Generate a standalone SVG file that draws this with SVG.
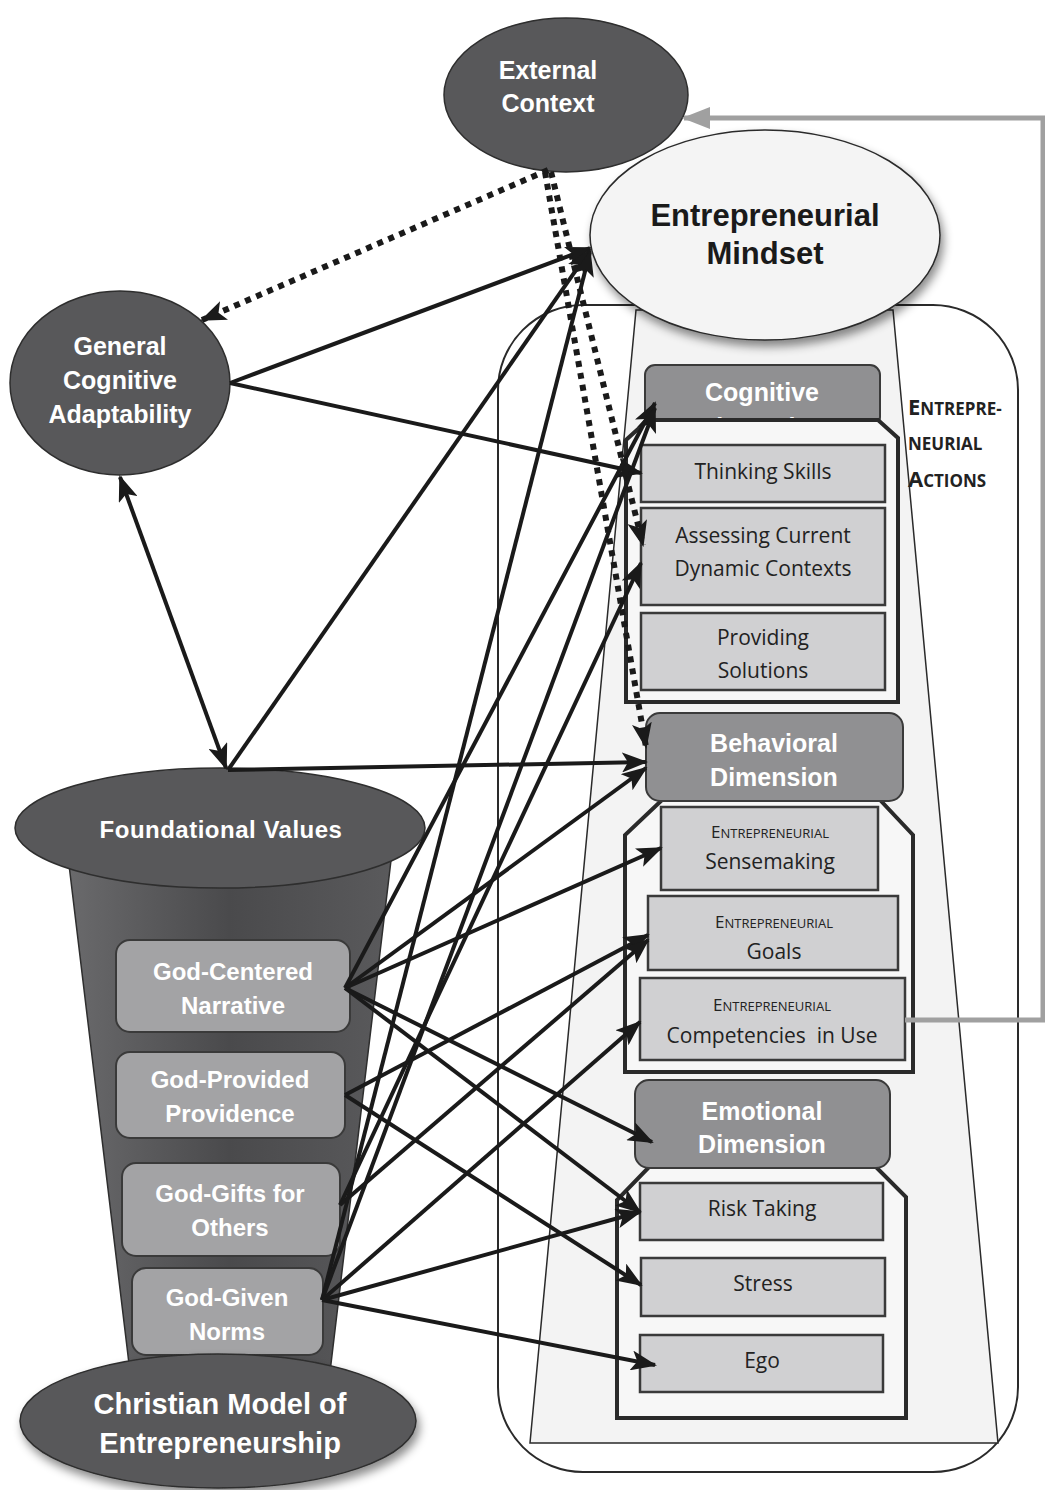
<svg xmlns="http://www.w3.org/2000/svg" width="1045" height="1490" viewBox="0 0 1045 1490">
<defs>
<style>
.dark{fill:#58585a;stroke:#2e2e2e;stroke-width:1.5}
.wb{font-family:"Liberation Sans",Arial,sans-serif;font-weight:bold;fill:#ffffff;text-anchor:middle}
.nb{font-family:"Liberation Sans Narrow","Liberation Sans",Arial,sans-serif;font-weight:bold;text-anchor:middle}
.dim{fill:#909092;stroke:#3a3a3a;stroke-width:2}
.item{fill:#d0d0d2;stroke:#3a3a3a;stroke-width:2.5}
.grp{fill:#f7f7f7;stroke:#2a2a2a;stroke-width:4}
.fv{fill:#a3a3a5;stroke:#3a3a3a;stroke-width:2}
.it{font-family:"Open Sans","Noto Sans",sans-serif;font-size:21px;fill:#222;text-anchor:middle;white-space:pre}
.sc{font-family:"Open Sans","Noto Sans",sans-serif;fill:#222;text-anchor:middle}
.arr{stroke:#1a1a1a;stroke-width:4;fill:none;marker-end:url(#ah)}
.dot{stroke:#1a1a1a;stroke-width:6;fill:none;stroke-dasharray:6 6;marker-end:url(#ah)}
</style>
<marker id="ah" markerUnits="userSpaceOnUse" markerWidth="26" markerHeight="20" refX="24" refY="10" orient="auto-start-reverse">
<path d="M0,0 L26,10 L0,20 L6,10 z" fill="#1a1a1a"/>
</marker>
<marker id="ahg" markerUnits="userSpaceOnUse" markerWidth="28" markerHeight="22" refX="26" refY="11" orient="auto">
<path d="M0,0 L28,11 L0,22 z" fill="#a0a0a0"/>
</marker>
<filter id="sh" x="-20%" y="-20%" width="140%" height="150%">
<feDropShadow dx="3" dy="6" stdDeviation="5" flood-color="#000" flood-opacity="0.45"/>
</filter>
<linearGradient id="fun" x1="0" y1="0" x2="1" y2="0">
<stop offset="0" stop-color="#6a6a6c"/>
<stop offset="0.5" stop-color="#4a4a4c"/>
<stop offset="1" stop-color="#5a5a5c"/>
</linearGradient>
</defs>
<rect width="1045" height="1490" fill="#ffffff"/>

<g id="actions-panel">
<rect x="498" y="305" width="520" height="1167" rx="85" ry="85" fill="#ffffff" stroke="#2a2a2a" stroke-width="2"/>
<polygon points="636,310 893,310 998,1443 530,1443" fill="#f3f3f3" stroke="#2a2a2a" stroke-width="1.5"/>
<text x="908" y="415" font-family="Open Sans,Noto Sans,sans-serif" font-weight="bold" fill="#222"><tspan font-size="22">E</tspan><tspan font-size="17">NTREPRE-</tspan></text>
<text x="908" y="450" font-family="Open Sans,Noto Sans,sans-serif" font-weight="bold" fill="#222" font-size="17">NEURIAL</text>
<text x="908" y="487" font-family="Open Sans,Noto Sans,sans-serif" font-weight="bold" fill="#222"><tspan font-size="22">A</tspan><tspan font-size="17">CTIONS</tspan></text>
</g>

<g id="entrepreneurial-mindset">
<ellipse cx="765" cy="235" rx="175" ry="105" fill="#f4f4f4" stroke="#2a2a2a" stroke-width="1.5" filter="url(#sh)"/>
<text class="nb" x="765" y="226" font-size="31" fill="#1a1a1a">Entrepreneurial</text>
<text class="nb" x="765" y="264" font-size="31" fill="#1a1a1a">Mindset</text>
</g>

<g id="external-context">
<ellipse class="dark" cx="566" cy="95" rx="122" ry="77"/>
<text class="wb" x="548" y="79" font-size="25">External</text>
<text class="wb" x="548" y="112" font-size="25">Context</text>
</g>

<g id="general-cognitive-adaptability">
<ellipse class="dark" cx="120" cy="383" rx="110" ry="92"/>
<text class="wb" x="120" y="355" font-size="25">General</text>
<text class="wb" x="120" y="389" font-size="25">Cognitive</text>
<text class="wb" x="120" y="423" font-size="25">Adaptability</text>
</g>

<g id="cognitive-dimension">
<rect class="dim" x="645" y="365" width="235" height="62" rx="10"/>
<text class="wb" x="762" y="401" font-size="25">Cognitive</text>
<text class="wb" x="762" y="436" font-size="25">Dimension</text>
</g>
<g id="cognitive-group">
<polygon class="grp" points="648,420 878,420 898,438 898,702 626,702 626,440"/>
</g>
<g id="thinking-skills">
<rect class="item" x="641" y="445" width="244" height="57"/>
<text class="it" x="763" y="479">Thinking Skills</text>
</g>
<g id="assessing-contexts">
<rect class="item" x="641" y="508" width="244" height="97"/>
<text class="it" x="763" y="543">Assessing Current</text>
<text class="it" x="763" y="576">Dynamic Contexts</text>
</g>
<g id="providing-solutions">
<rect class="item" x="641" y="613" width="244" height="77"/>
<text class="it" x="763" y="645">Providing</text>
<text class="it" x="763" y="678">Solutions</text>
</g>

<g id="behavioral-group">
<polygon class="grp" points="662,800 880,800 913,835 913,1072 625,1072 625,835"/>
</g>
<g id="behavioral-dimension">
<rect class="dim" x="646" y="713" width="257" height="88" rx="14"/>
<text class="wb" x="774" y="752" font-size="25">Behavioral</text>
<text class="wb" x="774" y="786" font-size="25">Dimension</text>
</g>
<g id="sensemaking">
<rect class="item" x="661" y="807" width="217" height="83"/>
<text class="sc" x="770" y="838"><tspan font-size="17">E</tspan><tspan font-size="13">NTREPRENEURIAL</tspan></text>
<text class="it" x="770" y="869" font-size="22">Sensemaking</text>
</g>
<g id="goals">
<rect class="item" x="648" y="896" width="250" height="74"/>
<text class="sc" x="774" y="928"><tspan font-size="17">E</tspan><tspan font-size="13">NTREPRENEURIAL</tspan></text>
<text class="it" x="774" y="959" font-size="22">Goals</text>
</g>
<g id="competencies">
<rect class="item" x="640" y="978" width="265" height="82"/>
<text class="sc" x="772" y="1011"><tspan font-size="17">E</tspan><tspan font-size="13">NTREPRENEURIAL</tspan></text>
<text class="it" x="772" y="1043" font-size="22">Competencies  in Use</text>
</g>

<g id="emotional-group">
<polygon class="grp" points="650,1166 875,1166 906,1197 906,1418 617,1418 617,1200"/>
</g>
<g id="emotional-dimension">
<rect class="dim" x="635" y="1080" width="255" height="88" rx="14"/>
<text class="wb" x="762" y="1120" font-size="25">Emotional</text>
<text class="wb" x="762" y="1153" font-size="25">Dimension</text>
</g>
<g id="risk-taking">
<rect class="item" x="640" y="1183" width="243" height="57"/>
<text class="it" x="762" y="1216">Risk Taking</text>
</g>
<g id="stress">
<rect class="item" x="641" y="1258" width="244" height="58"/>
<text class="it" x="763" y="1291">Stress</text>
</g>
<g id="ego">
<rect class="item" x="640" y="1335" width="243" height="57"/>
<text class="it" x="762" y="1368">Ego</text>
</g>

<g id="funnel">
<polygon points="67,848 392,852 330,1372 130,1372" fill="url(#fun)" stroke="#2e2e2e" stroke-width="1.5"/>
</g>
<g id="foundational-values">
<ellipse class="dark" cx="220" cy="828" rx="205" ry="60"/>
<text class="wb" x="221" y="838" font-size="24" letter-spacing="0.5">Foundational Values</text>
</g>
<g id="god-centered-narrative">
<rect class="fv" x="116" y="940" width="234" height="92" rx="14"/>
<text class="wb" x="233" y="980" font-size="24">God-Centered</text>
<text class="wb" x="233" y="1014" font-size="24">Narrative</text>
</g>
<g id="god-provided-providence">
<rect class="fv" x="116" y="1052" width="229" height="86" rx="14"/>
<text class="wb" x="230" y="1088" font-size="24">God-Provided</text>
<text class="wb" x="230" y="1122" font-size="24">Providence</text>
</g>
<g id="god-gifts">
<rect class="fv" x="122" y="1163" width="218" height="93" rx="14"/>
<text class="wb" x="230" y="1202" font-size="24">God-Gifts for</text>
<text class="wb" x="230" y="1236" font-size="24">Others</text>
</g>
<g id="god-given-norms">
<rect class="fv" x="132" y="1268" width="191" height="87" rx="14"/>
<text class="wb" x="227" y="1306" font-size="24">God-Given</text>
<text class="wb" x="227" y="1340" font-size="24">Norms</text>
</g>
<g id="christian-model">
<ellipse class="dark" cx="218" cy="1421" rx="198" ry="67" filter="url(#sh)"/>
<text class="wb" x="220" y="1414" font-size="29">Christian Model of</text>
<text class="wb" x="220" y="1453" font-size="29">Entrepreneurship</text>
</g>

<g id="connectors">
<polyline points="905,1020 1043,1020 1043,118 684,118" fill="none" stroke="#a0a0a0" stroke-width="5" marker-end="url(#ahg)"/>
<line class="dot" x1="548" y1="170" x2="202" y2="320"/>
<line class="dot" x1="551" y1="172" x2="643" y2="545"/>
<line class="dot" x1="545" y1="172" x2="646" y2="747"/>
<line class="arr" x1="230" y1="383" x2="590" y2="248" stroke="#333"/>
<line class="arr" x1="230" y1="383" x2="641" y2="473" stroke="#4a4a4a"/>
<line class="arr" x1="226" y1="768" x2="120" y2="477" marker-start="url(#ah)"/>
<line class="arr" x1="228" y1="770" x2="590" y2="250"/>
<line class="arr" x1="228" y1="770" x2="646" y2="762"/>
<line class="arr" x1="345" y1="988" x2="655" y2="403"/>
<line class="arr" x1="345" y1="988" x2="646" y2="768"/>
<line class="arr" x1="345" y1="988" x2="661" y2="848"/>
<line class="arr" x1="345" y1="988" x2="652" y2="1142"/>
<line class="arr" x1="345" y1="988" x2="640" y2="1212"/>
<line class="arr" x1="345" y1="1095" x2="648" y2="935"/>
<line class="arr" x1="345" y1="1095" x2="641" y2="1285"/>
<line class="arr" x1="340" y1="1205" x2="641" y2="563"/>
<line class="arr" x1="340" y1="1205" x2="648" y2="940"/>
<line class="arr" x1="322" y1="1300" x2="590" y2="252"/>
<line class="arr" x1="322" y1="1300" x2="655" y2="408"/>
<line class="arr" x1="322" y1="1300" x2="640" y2="1022"/>
<line class="arr" x1="322" y1="1300" x2="640" y2="1212"/>
<line class="arr" x1="322" y1="1300" x2="655" y2="1365"/>
</g>
</svg>
